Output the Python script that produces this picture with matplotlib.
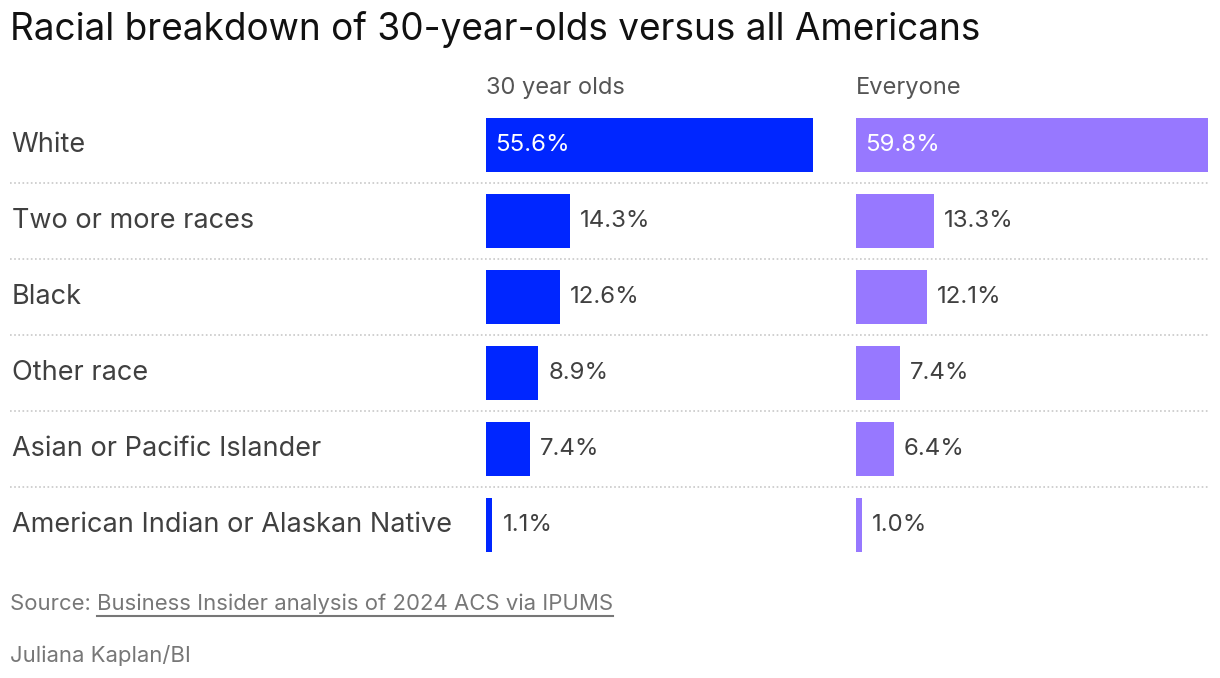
import matplotlib.pyplot as plt
from matplotlib.lines import Line2D

plt.rcParams['font.family'] = ['Inter', 'DejaVu Sans']

# Data
races = ['White', 'Two or more races', 'Black', 'Other race',
         'Asian or Pacific Islander', 'American Indian or Alaskan Native']
thirty = [55.6, 14.3, 12.6, 8.9, 7.4, 1.1]
everyone = [59.8, 13.3, 12.1, 7.4, 6.4, 1.0]
columns = ['30 year olds', 'Everyone']
colors = ['#0026ff', '#9778ff']

W, H = 1220, 678
fig = plt.figure(figsize=(W / 100, H / 100), dpi=100)

def fy(px):
    return 1 - px / H

top, bottom = 107, 563
vmax = max(max(thirty), max(everyone))

# background axes for labels and dotted separators
bg = fig.add_axes([10 / W, fy(bottom), 1200 / W, (bottom - top) / H])
bg.set_xlim(0, 1)
bg.set_ylim(len(races) - 0.5, -0.5)
bg.axis('off')
for i in range(len(races) - 1):
    bg.axhline(i + 0.5, color='#c8c8c8', linestyle=(0, (1, 1.5)), linewidth=1.2)
for i, r in enumerate(races):
    bg.text(0.0015, i, r, ha='left', va='center', fontsize=19.5, color='#404040')

lefts = [486, 856]
for left, vals, col, name in zip(lefts, [thirty, everyone], colors, columns):
    ax = fig.add_axes([left / W, fy(bottom), 352 / W, (bottom - top) / H])
    ax.barh(range(len(vals)), vals, height=0.71, color=col)
    ax.set_xlim(0, vmax)
    ax.set_ylim(len(vals) - 0.5, -0.5)
    ax.axis('off')
    for i, v in enumerate(vals):
        if i == 0:
            ax.annotate(f'{v}%', (0, i), xytext=(6.5, 0), textcoords='offset points',
                        ha='left', va='center', fontsize=17.3, color='white')
        else:
            ax.annotate(f'{v}%', (v, i), xytext=(7.2, 0), textcoords='offset points',
                        ha='left', va='center', fontsize=17.3, color='#404040')
    fig.text(left / W, fy(88), name, ha='left', va='center', fontsize=17, color='#555555')

fig.text(10 / W, fy(30), 'Racial breakdown of 30-year-olds versus all Americans',
         ha='left', va='center', fontsize=26.6, color='#111111')

# footer
src = fig.text(10 / W, fy(604), 'Source: ', ha='left', va='center', fontsize=15.9, color='#777777')
fig.canvas.draw()
r = fig.canvas.get_renderer()
bb = src.get_window_extent(r)
link = fig.text(bb.x1 / W, fy(604), 'Business Insider analysis of 2024 ACS via IPUMS',
                ha='left', va='center', fontsize=15.9, color='#777777')
fig.canvas.draw()
lb = link.get_window_extent(r)
fig.add_artist(Line2D([lb.x0 / W, lb.x1 / W], [fy(616), fy(616)], color='#777777',
                      linewidth=1.5, transform=fig.transFigure))
fig.text(10 / W, fy(655), 'Juliana Kaplan/BI', ha='left', va='center', fontsize=15.9, color='#777777')

fig.savefig('out.png', dpi=100)
